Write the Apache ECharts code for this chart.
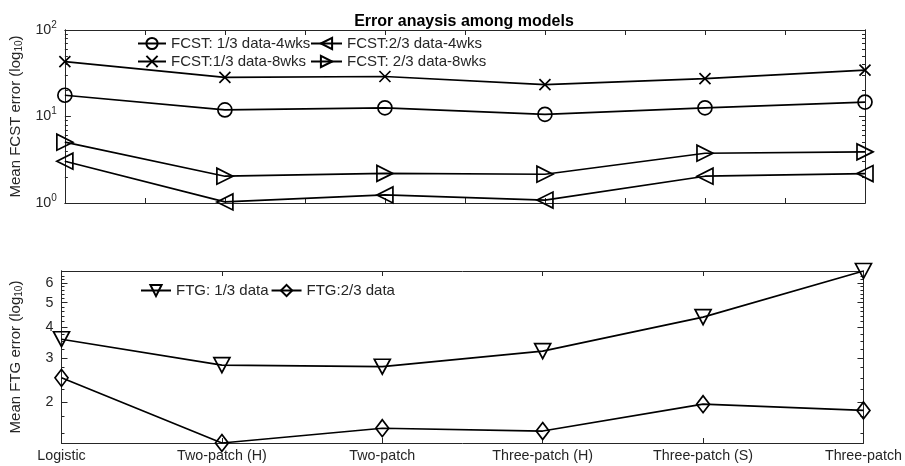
<!DOCTYPE html>
<html>
<head>
<meta charset="utf-8">
<script src="https://cdn.jsdelivr.net/npm/echarts@6/dist/echarts.min.js"></script>
<style>
html,body{margin:0;padding:0;background:#fff;}
#chart{width:905px;height:466px;}
</style>
</head>
<body>
<div id="chart"></div>
<script>
const categories = ['Logistic', 'Two-patch (H)', 'Two-patch', 'Three-patch (H)', 'Three-patch (S)', 'Three-patch'];
const fcst13_4wks = [17.6, 11.9, 12.6, 10.6, 12.6, 14.7];
const fcst13_8wks = [43.0, 28.4, 29.0, 23.3, 27.4, 34.4];
const fcst23_4wks = [3.04, 1.03, 1.24, 1.08, 2.04, 2.19];
const fcst23_8wks = [5.05, 2.04, 2.2, 2.15, 3.76, 3.9];
const ftg13 = [3.57, 2.81, 2.77, 3.2, 4.38, 6.7];
const ftg23 = [2.50, 1.37, 1.57, 1.53, 1.96, 1.85];

const topMajorTicks = [1, 10, 100];
const topMinorTicks = [2, 3, 4, 5, 6, 7, 8, 9, 20, 30, 40, 50, 60, 70, 80, 90];
const bottomMajorTicks = [2, 3, 4, 5, 6];
const bottomMinorTicks = [1.5, 1.75, 2.25, 2.5, 2.75, 3.25, 3.5, 3.75, 4.2, 4.4, 4.6, 4.8, 5.2, 5.4, 5.6, 5.8, 6.2, 6.4];

const FONT = 'Liberation Sans, Arial, Helvetica, sans-serif';
const AX = '#262626';
const FS = 14.3;
const pts = arr => arr.map((v, i) => [i + 1, v]);

const chart = echarts.init(document.getElementById('chart'), null, {renderer: 'canvas'});

const bMin = Math.min(...ftg13, ...ftg23);
const bMax = Math.max(...ftg13, ...ftg23);

function xAx(grid, pos, interval, labels) {
  return {
    type: 'value', gridIndex: grid, position: pos, min: 1, max: 6, interval: interval,
    axisLine: {show: true, lineStyle: {color: AX, width: 1}},
    axisTick: {show: true, inside: true, length: 5, lineStyle: {color: AX}},
    splitLine: {show: false},
    axisLabel: labels ? {
      show: true, margin: 6, color: AX, fontFamily: FONT, fontSize: FS,
      formatter: v => (Number.isInteger(v) ? categories[v - 1] : '')
    } : {show: false}
  };
}
function yAx(grid, pos, min, max, ticks, len, labelOpt, nameOpt) {
  const a = {
    type: 'log', logBase: 10, gridIndex: grid, position: pos, min: min, max: max,
    axisLine: {show: true, lineStyle: {color: AX, width: 1}},
    axisTick: {show: true, inside: true, length: len, customValues: ticks, lineStyle: {color: AX}},
    splitLine: {show: false},
    minorTick: {show: false},
    axisLabel: labelOpt || {show: false}
  };
  if (nameOpt) Object.assign(a, nameOpt);
  return a;
}
const nameStyle = {
  color: AX, fontFamily: FONT, fontSize: 15,
  rich: {sub: {fontSize: 10, fontFamily: FONT, color: AX, padding: [8, 0, 0, 0]}}
};
const legText = {fontFamily: FONT, fontSize: 15, color: AX};

const option = {
  backgroundColor: '#fff',
  animation: false,
  title: {
    text: 'Error anaysis among models', left: 459, top: 9, textAlign: 'center',
    textStyle: {fontFamily: FONT, fontWeight: 'bold', fontSize: 16, color: '#000'}
  },
  grid: [
    {left: 61, right: 40, top: 30, height: 173},
    {left: 61, right: 40, top: 271, height: 172}
  ],
  legend: [
    {orient: 'vertical', left: 137, top: 36, itemWidth: 28, itemHeight: 14, itemGap: 3, padding: 0,
     data: ['FCST: 1/3 data-4wks', 'FCST:1/3 data-8wks'], textStyle: legText},
    {orient: 'vertical', left: 310, top: 36, itemWidth: 31, itemHeight: 14, itemGap: 3, padding: 0,
     data: ['FCST:2/3 data-4wks', 'FCST: 2/3 data-8wks'], textStyle: legText},
    {orient: 'horizontal', left: 140, top: 283, itemWidth: 30, itemHeight: 14, itemGap: 2, padding: 0,
     data: ['FTG: 1/3 data', 'FTG:2/3 data'], textStyle: legText}
  ],
  xAxis: [
    xAx(0, 'bottom', 0.5, false),
    xAx(0, 'top', 0.5, false),
    xAx(1, 'bottom', 1, true),
    xAx(1, 'top', 1, false)
  ],
  yAxis: [
    yAx(0, 'left', 1, 100, topMajorTicks, 6, {
      show: true, customValues: topMajorTicks, margin: 8, color: AX, fontFamily: FONT, fontSize: FS,
      formatter: v => '10{sup|' + Math.round(Math.log10(v)) + '}',
      rich: {sup: {fontSize: 10, fontFamily: FONT, color: AX, padding: [0, 0, 10, 0]}}
    }, {
      name: 'Mean FCST error (log{sub|10})', nameLocation: 'middle', nameRotate: 90, nameGap: 37,
      nameTextStyle: nameStyle
    }),
    yAx(0, 'left', 1, 100, topMinorTicks, 3),
    yAx(0, 'right', 1, 100, topMajorTicks, 6),
    yAx(0, 'right', 1, 100, topMinorTicks, 3),
    yAx(1, 'left', bMin, bMax, bottomMajorTicks, 6, {
      show: true, customValues: bottomMajorTicks, margin: 8, color: AX, fontFamily: FONT, fontSize: FS,
      formatter: v => String(v)
    }, {
      name: 'Mean FTG error (log{sub|10})', nameLocation: 'middle', nameRotate: 90, nameGap: 37,
      nameTextStyle: nameStyle
    }),
    yAx(1, 'left', bMin, bMax, bottomMinorTicks, 3),
    yAx(1, 'right', bMin, bMax, bottomMajorTicks, 6),
    yAx(1, 'right', bMin, bMax, bottomMinorTicks, 3)
  ],
  series: []
};

const mk = (name, data, grid, symbol, size, rotate) => ({
  name: name, type: 'line', xAxisIndex: grid === 0 ? 0 : 2, yAxisIndex: grid === 0 ? 0 : 4,
  data: pts(data), symbol: symbol, symbolSize: size, symbolRotate: rotate || 0,
  showAllSymbol: true, z: 5,
  lineStyle: {color: '#000', width: 1.7},
  itemStyle: {color: 'rgba(0,0,0,0)', borderColor: '#000', borderWidth: 1.7}
});
const xPath = 'path://M0,0L10,10M10,0L0,10';
option.series = [
  mk('FCST: 1/3 data-4wks', fcst13_4wks, 0, 'circle', 14),
  mk('FCST:1/3 data-8wks', fcst13_8wks, 0, xPath, 11),
  mk('FCST:2/3 data-4wks', fcst23_4wks, 0, 'triangle', [16, 16], 90),
  mk('FCST: 2/3 data-8wks', fcst23_8wks, 0, 'triangle', [16, 16], -90),
  mk('FTG: 1/3 data', ftg13, 1, 'triangle', [16, 15], 180),
  mk('FTG:2/3 data', ftg23, 1, 'diamond', [13, 17])
];

chart.setOption(option);
</script>
</body>
</html>
